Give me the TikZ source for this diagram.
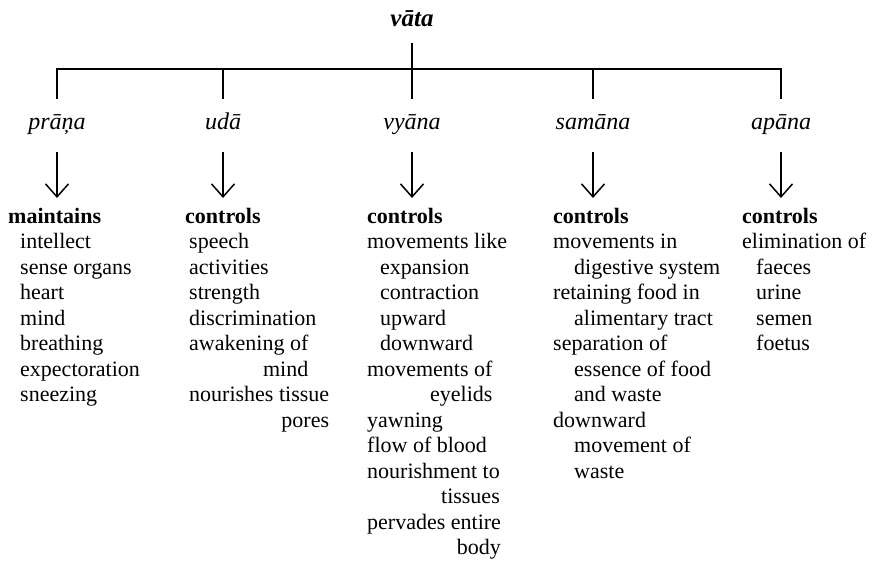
\documentclass[tikz,border=0pt]{standalone}
\usepackage{fontspec}
\setmainfont{Liberation Serif}
\usetikzlibrary{arrows.meta}
% indentation of continued items
\newcommand\ind[1][13pt]{\hspace*{#1}}
% set #2 flush right under the width of #1
\newcommand\rjust[2]{\setbox0\hbox{#1}\hbox to \wd0{\hfil #2}}
\begin{document}
\begin{tikzpicture}[x=1pt,y=-1pt,
  rootlabel/.style={font=\fontsize{25}{30}\selectfont\bfseries\itshape, anchor=base, inner sep=0pt},
  sublabel/.style={font=\fontsize{24}{28}\selectfont\itshape, anchor=base, inner sep=0pt},
  block/.style={font=\fontsize{22}{25.5}\selectfont, anchor=north west, inner sep=0pt, align=left},
  barline/.style={line width=2pt},
  tick/.style={line width=1.8pt},
  arr/.style={line width=1.5pt, -{Straight Barb[length=13pt,width=23pt,line width=1.5pt]}}]
\useasboundingbox (0,0) rectangle (874,561);

% root
\node[rootlabel] (vata) at (412,27) {vāta};
\coordinate (trunk) at (412,43);
\coordinate (bar) at (412,69);

% branch labels
\node[sublabel] (prana) at (57,130) {prāņa};
\node[sublabel] (udana) at (223,130) {udā};
\node[sublabel] (vyana) at (412,130) {vyāna};
\node[sublabel] (samana) at (593,130) {samāna};
\node[sublabel] (apana) at (781,130) {apāna};

% connecting bar
\draw[tick] (trunk) -- (bar);
\draw[barline] (prana |- 0,99) -- (prana |- bar) -- (apana |- bar) -- (apana |- 0,99);
\foreach \n in {udana,vyana,samana}
  \draw[tick] (\n |- bar) -- (\n |- 0,99);

% functions of each branch
\node[block] (fprana) at (8,205.2) {\strut\textbf{maintains}\\
  \ind[12pt]intellect\\
  \ind[12pt]sense organs\\
  \ind[12pt]heart\\
  \ind[12pt]mind\\
  \ind[12pt]breathing\\
  \ind[12pt]expectoration\\
  \ind[12pt]sneezing};

\node[block] (fudana) at (185,205.2) {\strut\textbf{controls}\\
  \ind[4pt]speech\\
  \ind[4pt]activities\\
  \ind[4pt]strength\\
  \ind[4pt]discrimination\\
  \ind[4pt]awakening of\\
  \ind[4pt]\rjust{awakening of}{mind}\\
  \ind[4pt]nourishes tissue\\
  \ind[4pt]\rjust{nourishes tissue}{pores}};

\node[block] (fvyana) at (367,205.2) {\strut\textbf{controls}\\
  movements like\\
  \ind expansion\\
  \ind contraction\\
  \ind upward\\
  \ind downward\\
  movements of\\
  \rjust{movements of}{eyelids}\\
  yawning\\
  flow of blood\\
  nourishment to\\
  \rjust{nourishment to}{tissues}\\
  pervades entire\\
  \rjust{pervades entire}{body}};

\node[block] (fsamana) at (553,205.2) {\strut\textbf{controls}\\
  movements in\\
  \ind[21pt]digestive system\\
  retaining food in\\
  \ind[21pt]alimentary tract\\
  separation of\\
  \ind[21pt]essence of food\\
  \ind[21pt]and waste\\
  downward\\
  \ind[21pt]movement of\\
  \ind[21pt]waste};

\node[block] (fapana) at (742,205.2) {\strut\textbf{controls}\\
  elimination of\\
  \ind[14pt]faeces\\
  \ind[14pt]urine\\
  \ind[14pt]semen\\
  \ind[14pt]foetus};

% arrows from branch to its functions
\foreach \n in {prana,udana,vyana,samana,apana}
  \draw[arr] (\n.base) ++(0,22) -- ++(0,46);
\end{tikzpicture}
\end{document}
